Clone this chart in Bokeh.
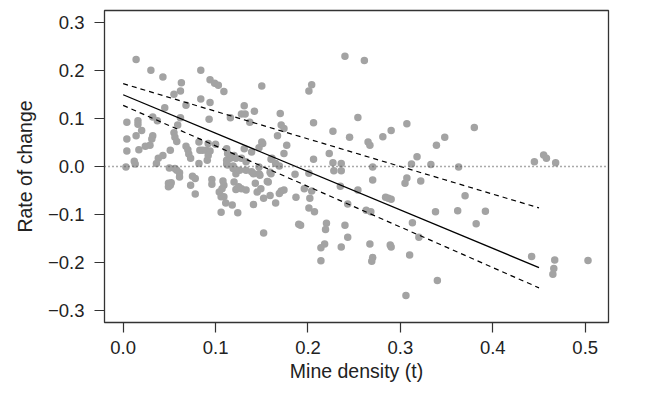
from bokeh.plotting import figure
from bokeh.models import Range1d, FixedTicker, Span
from bokeh.embed import file_html
from bokeh.resources import INLINE

# ---- data ----
density = [
    0.014, 0.030, 0.043, 0.084, 0.063, 0.062, 0.055, 0.094, 0.099, 0.103,
    0.109, 0.084, 0.094, 0.068, 0.150, 0.045, 0.131, 0.142, 0.128, 0.132,
    0.116, 0.137, 0.093, 0.032, 0.037, 0.062, 0.004, 0.016, 0.016, 0.020,
    0.014, 0.004, 0.032, 0.031, 0.055, 0.056, 0.058, 0.029, 0.024, 0.017,
    0.004, 0.051, 0.068, 0.070, 0.071, 0.073, 0.082, 0.083, 0.086, 0.092,
    0.090, 0.094, 0.100, 0.091, 0.082, 0.043, 0.038, 0.036, 0.012, 0.013,
    0.003, 0.050, 0.056, 0.112, 0.113, 0.116, 0.112, 0.120, 0.122, 0.131,
    0.139, 0.128, 0.133, 0.150, 0.151, 0.147, 0.161, 0.167, 0.165, 0.147,
    0.119, 0.112, 0.092, 0.059, 0.170, 0.171, 0.174, 0.177, 0.174, 0.160,
    0.169, 0.159,
    0.058, 0.061, 0.061, 0.049, 0.051, 0.049, 0.052, 0.075, 0.078, 0.073,
    0.078, 0.096, 0.096, 0.108, 0.109, 0.107, 0.104, 0.106, 0.109, 0.111,
    0.106, 0.118, 0.124, 0.113, 0.119, 0.122, 0.126, 0.120, 0.122, 0.125,
    0.128, 0.133, 0.133, 0.139, 0.141, 0.147, 0.148, 0.143, 0.145, 0.149,
    0.157, 0.160, 0.141, 0.152, 0.159, 0.165, 0.169, 0.152, 0.171, 0.156,
    0.240, 0.261, 0.204, 0.201, 0.254, 0.206, 0.307, 0.227, 0.290, 0.245,
    0.281, 0.265, 0.267, 0.339, 0.223, 0.318, 0.206, 0.227, 0.236, 0.312,
    0.333, 0.270, 0.228, 0.236, 0.186, 0.201, 0.307, 0.270, 0.322, 0.305,
    0.235, 0.196, 0.204, 0.254, 0.174, 0.187, 0.202, 0.284, 0.290, 0.287,
    0.243, 0.201, 0.207, 0.263, 0.268, 0.338, 0.190, 0.192, 0.220, 0.240,
    0.313, 0.219, 0.243, 0.320, 0.218, 0.214, 0.236, 0.267, 0.289, 0.290,
    0.310, 0.214, 0.270, 0.269, 0.340, 0.306,
    0.348, 0.380, 0.363, 0.445, 0.455, 0.458, 0.468, 0.370, 0.362, 0.392,
    0.382, 0.442, 0.467, 0.466, 0.465, 0.503,
]
rate = [
    0.222, 0.200, 0.186, 0.200, 0.174, 0.157, 0.150, 0.180, 0.173, 0.169,
    0.156, 0.140, 0.133, 0.127, 0.167, 0.122, 0.126, 0.115, 0.109, 0.109,
    0.101, 0.092, 0.098, 0.103, 0.095, 0.101, 0.092, 0.095, 0.088, 0.075,
    0.064, 0.057, 0.064, 0.057, 0.070, 0.061, 0.052, 0.044, 0.042, 0.035,
    0.032, 0.034, 0.042, 0.035, 0.026, 0.017, 0.051, 0.034, 0.034, 0.048,
    0.034, 0.032, 0.046, 0.013, 0.006, 0.023, 0.017, 0.006, 0.011, 0.005,
    -0.001, -0.003, -0.004, 0.037, 0.027, 0.017, 0.013, 0.023, 0.017, 0.037,
    0.030, 0.017, 0.010, 0.051, 0.048, 0.039, 0.017, 0.064, 0.006, -0.001,
    0.001, 0.005, 0.023, 0.086, 0.110, 0.086, 0.079, 0.044, 0.027, 0.015,
    0.001, -0.012,
    -0.008, -0.013, -0.022, -0.035, -0.039, -0.042, -0.034, -0.020, -0.025, -0.039,
    -0.057, -0.027, -0.037, -0.030, -0.039, -0.046, -0.053, -0.063, -0.063, -0.076,
    -0.095, -0.080, -0.096, 0.003, -0.004, -0.015, -0.008, -0.032, -0.048, -0.042,
    -0.046, -0.049, -0.008, -0.011, -0.015, -0.015, -0.018, -0.035, -0.053, -0.046,
    -0.032, -0.015, -0.079, -0.066, -0.060, -0.076, -0.056, -0.138, -0.051, -0.031,
    0.229, 0.220, 0.170, 0.157, 0.102, 0.091, 0.089, 0.073, 0.075, 0.061,
    0.062, 0.051, 0.044, 0.044, 0.027, 0.020, 0.015, 0.008, 0.006, 0.005,
    0.004, -0.001, -0.009, -0.009, -0.016, -0.014, -0.024, -0.028, -0.030, -0.035,
    -0.041, -0.046, -0.051, -0.049, -0.049, -0.064, -0.066, -0.064, -0.068, -0.066,
    -0.078, -0.086, -0.094, -0.091, -0.094, -0.094, -0.120, -0.122, -0.118, -0.122,
    -0.117, -0.131, -0.147, -0.147, -0.161, -0.169, -0.167, -0.161, -0.163, -0.167,
    -0.184, -0.196, -0.189, -0.197, -0.237, -0.268,
    0.061, 0.081, -0.001, 0.010, 0.024, 0.017, 0.008, -0.061, -0.092, -0.093,
    -0.119, -0.187, -0.194, -0.212, -0.224, -0.195,
]

fit_x = [0.0, 0.45]
fit_y = [0.149, -0.210]
upper_y = [0.172, -0.086]
lower_y = [0.127, -0.252]

x_ticks = [0.0, 0.1, 0.2, 0.3, 0.4, 0.5]
x_tick_labels = ["0.0", "0.1", "0.2", "0.3", "0.4", "0.5"]
y_ticks = [-0.3, -0.2, -0.1, 0.0, 0.1, 0.2, 0.3]
y_tick_labels = ["\u22120.3", "\u22120.2", "\u22120.1", "0.0", "0.1", "0.2", "0.3"]

x_title = "Mine density (t)"
y_title = "Rate of change"

# ---- figure ----
p = figure(width=650, height=386, output_backend="svg", toolbar_location=None,
           x_range=Range1d(-0.0202, 0.5252), y_range=Range1d(-0.324, 0.324),
           min_border_left=104, min_border_right=42, min_border_top=10,
           min_border_bottom=64)
p.grid.visible = False
p.outline_line_color = "#333333"
p.outline_line_width = 1.3
p.background_fill_color = "white"
p.border_fill_color = "white"

p.scatter(density, rate, size=7.5, fill_color="#a3a3a3", line_color=None)

p.add_layout(Span(location=0, dimension="width", line_color="#555555",
                  line_dash="1 3", line_width=1.3))
p.line(fit_x, fit_y, line_color="black", line_width=1.3)
p.line(fit_x, upper_y, line_color="black", line_width=1.2, line_dash="5 4")
p.line(fit_x, lower_y, line_color="black", line_width=1.2, line_dash="5 4")

p.xaxis.ticker = FixedTicker(ticks=x_ticks)
p.yaxis.ticker = FixedTicker(ticks=y_ticks)
p.xaxis.major_label_overrides = dict(zip(x_ticks, x_tick_labels))
p.yaxis.major_label_overrides = dict(zip(y_ticks, y_tick_labels))
p.xaxis.axis_label = x_title
p.yaxis.axis_label = y_title

for ax in (p.xaxis, p.yaxis):
    ax.axis_line_color = None
    ax.major_tick_out = 10
    ax.major_tick_in = 0
    ax.minor_tick_line_color = None
    ax.major_tick_line_color = "#333333"
    ax.major_tick_line_width = 1.2
    ax.major_label_text_font = "Liberation Sans"
    ax.major_label_text_font_size = "18.5px"
    ax.major_label_text_color = "#222222"
    ax.axis_label_text_font = "Liberation Sans"
    ax.axis_label_text_font_size = "19.5px"
    ax.axis_label_text_font_style = "normal"
    ax.axis_label_text_color = "#222222"

p.xaxis.major_label_standoff = 8
p.xaxis.axis_label_standoff = 3
p.yaxis.major_label_standoff = 10
p.yaxis.axis_label_standoff = 9

open("out.html", "w").write(file_html(p, INLINE))
